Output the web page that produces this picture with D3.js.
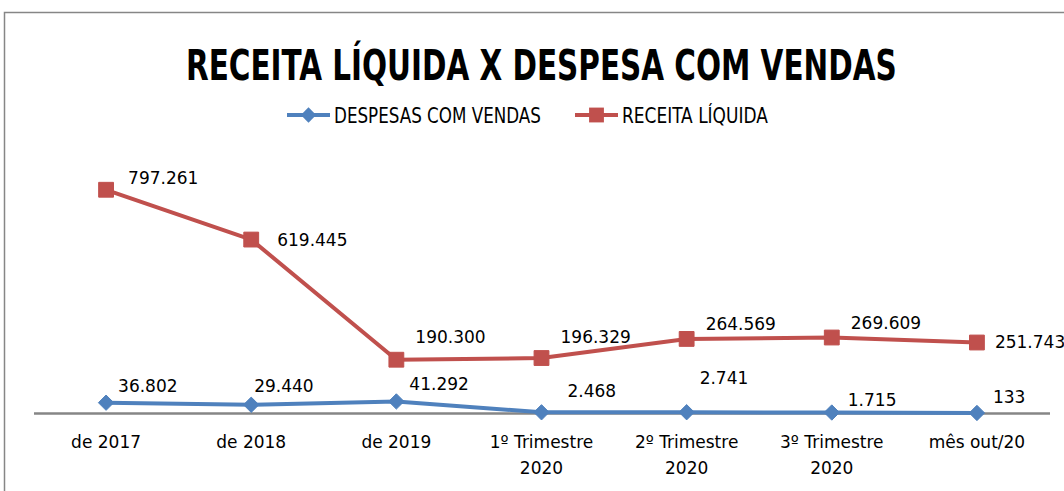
<!DOCTYPE html>
<html>
<head>
<meta charset="utf-8">
<script src="https://cdn.jsdelivr.net/npm/d3@7"></script>
<style>
  body { margin: 0; background: #fff; }
  text { font-family: "DejaVu Sans", sans-serif; fill: #000; }
</style>
</head>
<body>
<div id="chart"></div>
<script>
var categories = ["de 2017", "de 2018", "de 2019", "1º Trimestre\n2020", "2º Trimestre\n2020", "3º Trimestre\n2020", "mês out/20"];
var despesas = [36802, 29440, 41292, 2468, 2741, 1715, 133];
var receita = [797261, 619445, 190300, 196329, 264569, 269609, 251743];
var despesasLabels = ["36.802", "29.440", "41.292", "2.468", "2.741", "1.715", "133"];
var receitaLabels = ["797.261", "619.445", "190.300", "196.329", "264.569", "269.609", "251.743"];

// label nudges (as dragged in the original sheet)
var receitaNudge = [[22, -12], [26, 0], [19, -23], [19, -21], [19, -15], [19, -14], [18, 0]];
var despesasNudge = [[12, -17], [3, -19], [13, -17], [26, -21], [13, -34], [16, -12], [16, -16]];

var width = 1064, height = 491;
var narrow = "'Liberation Sans Narrow', 'DejaVu Sans Condensed', 'DejaVu Sans', sans-serif";

var svg = d3.select("#chart").append("svg")
  .attr("width", width)
  .attr("height", height);

// squeeze a text horizontally to a given width
function squeeze(sel, x0, y0, w) {
  var natural = sel.node().getComputedTextLength();
  sel.attr("transform", "translate(" + x0 + "," + y0 + ") scale(" + (w / natural) + ",1)");
}

// chart border (cropped at right/bottom)
svg.append("path")
  .attr("d", "M4.5," + height + "V12.5H" + width)
  .attr("fill", "none")
  .attr("stroke", "#868686")
  .attr("stroke-width", 1.5);

var title = svg.append("text")
  .style("font-family", narrow)
  .style("font-weight", "bold")
  .style("font-size", "43px")
  .text("RECEITA LÍQUIDA X DESPESA COM VENDAS");
squeeze(title, 186, 80, 711);

var x = d3.scaleBand()
  .domain(categories)
  .range([33.5, 1049.5]);

var y = d3.scaleLinear()
  .domain([0, 900000])
  .range([413, 161]);

var cx = function(i) { return x(categories[i]) + x.bandwidth() / 2; };

// category axis
var axis = svg.append("g").attr("transform", "translate(0," + y(0) + ")")
  .call(d3.axisBottom(x).tickSize(0).tickFormat(""));
axis.select(".domain").attr("stroke", "#868686").attr("stroke-width", 2.5);

var ticks = svg.append("g").selectAll("text")
  .data(categories)
  .enter().append("text")
  .attr("x", (d, i) => cx(i))
  .attr("y", 448)
  .attr("text-anchor", "middle")
  .style("font-size", "17px");
ticks.each(function(d) {
  var t = d3.select(this);
  d.split("\n").forEach(function(line, k) {
    t.append("tspan").attr("x", t.attr("x")).attr("dy", k ? 26 : 0).text(line);
  });
});

var line = d3.line()
  .x((d, i) => cx(i))
  .y(d => y(d));

var series = [
  { name: "DESPESAS COM VENDAS", values: despesas, labels: despesasLabels, nudge: despesasNudge, color: "#4F81BD", symbol: d3.symbolDiamond2, size: 150, legendW: 207 },
  { name: "RECEITA LÍQUIDA", values: receita, labels: receitaLabels, nudge: receitaNudge, color: "#C0504D", symbol: d3.symbolSquare2, size: 280, legendW: 146 }
];

series.forEach(function(s) {
  svg.append("path")
    .datum(s.values)
    .attr("d", line)
    .attr("fill", "none")
    .attr("stroke", s.color)
    .attr("stroke-width", 4)
    .attr("stroke-linejoin", "round");

  svg.append("g").selectAll("path")
    .data(s.values)
    .enter().append("path")
    .attr("transform", (d, i) => "translate(" + cx(i) + "," + y(d) + ")")
    .attr("d", d3.symbol().type(s.symbol).size(s.size))
    .attr("fill", s.color)
    .attr("stroke", s.color)
    .attr("stroke-width", 1);

  svg.append("g").selectAll("text")
    .data(s.values)
    .enter().append("text")
    .attr("x", (d, i) => cx(i) + s.nudge[i][0])
    .attr("y", (d, i) => y(d) + s.nudge[i][1])
    .attr("dy", "0.35em")
    .style("font-size", "17px")
    .text((d, i) => s.labels[i]);
});

// legend
var legendX = [287, 575];
series.forEach(function(s, i) {
  var g = svg.append("g").attr("transform", "translate(" + legendX[i] + ",115)");
  g.append("line")
    .attr("x1", 0).attr("x2", 43)
    .attr("stroke", s.color).attr("stroke-width", 4);
  g.append("path")
    .attr("transform", "translate(21.5,0)")
    .attr("d", d3.symbol().type(s.symbol).size(s.size))
    .attr("fill", s.color);
  var t = g.append("text")
    .style("font-family", narrow)
    .style("font-size", "21px")
    .text(s.name);
  squeeze(t, 47, 8, s.legendW);
});
</script>
</body>
</html>
